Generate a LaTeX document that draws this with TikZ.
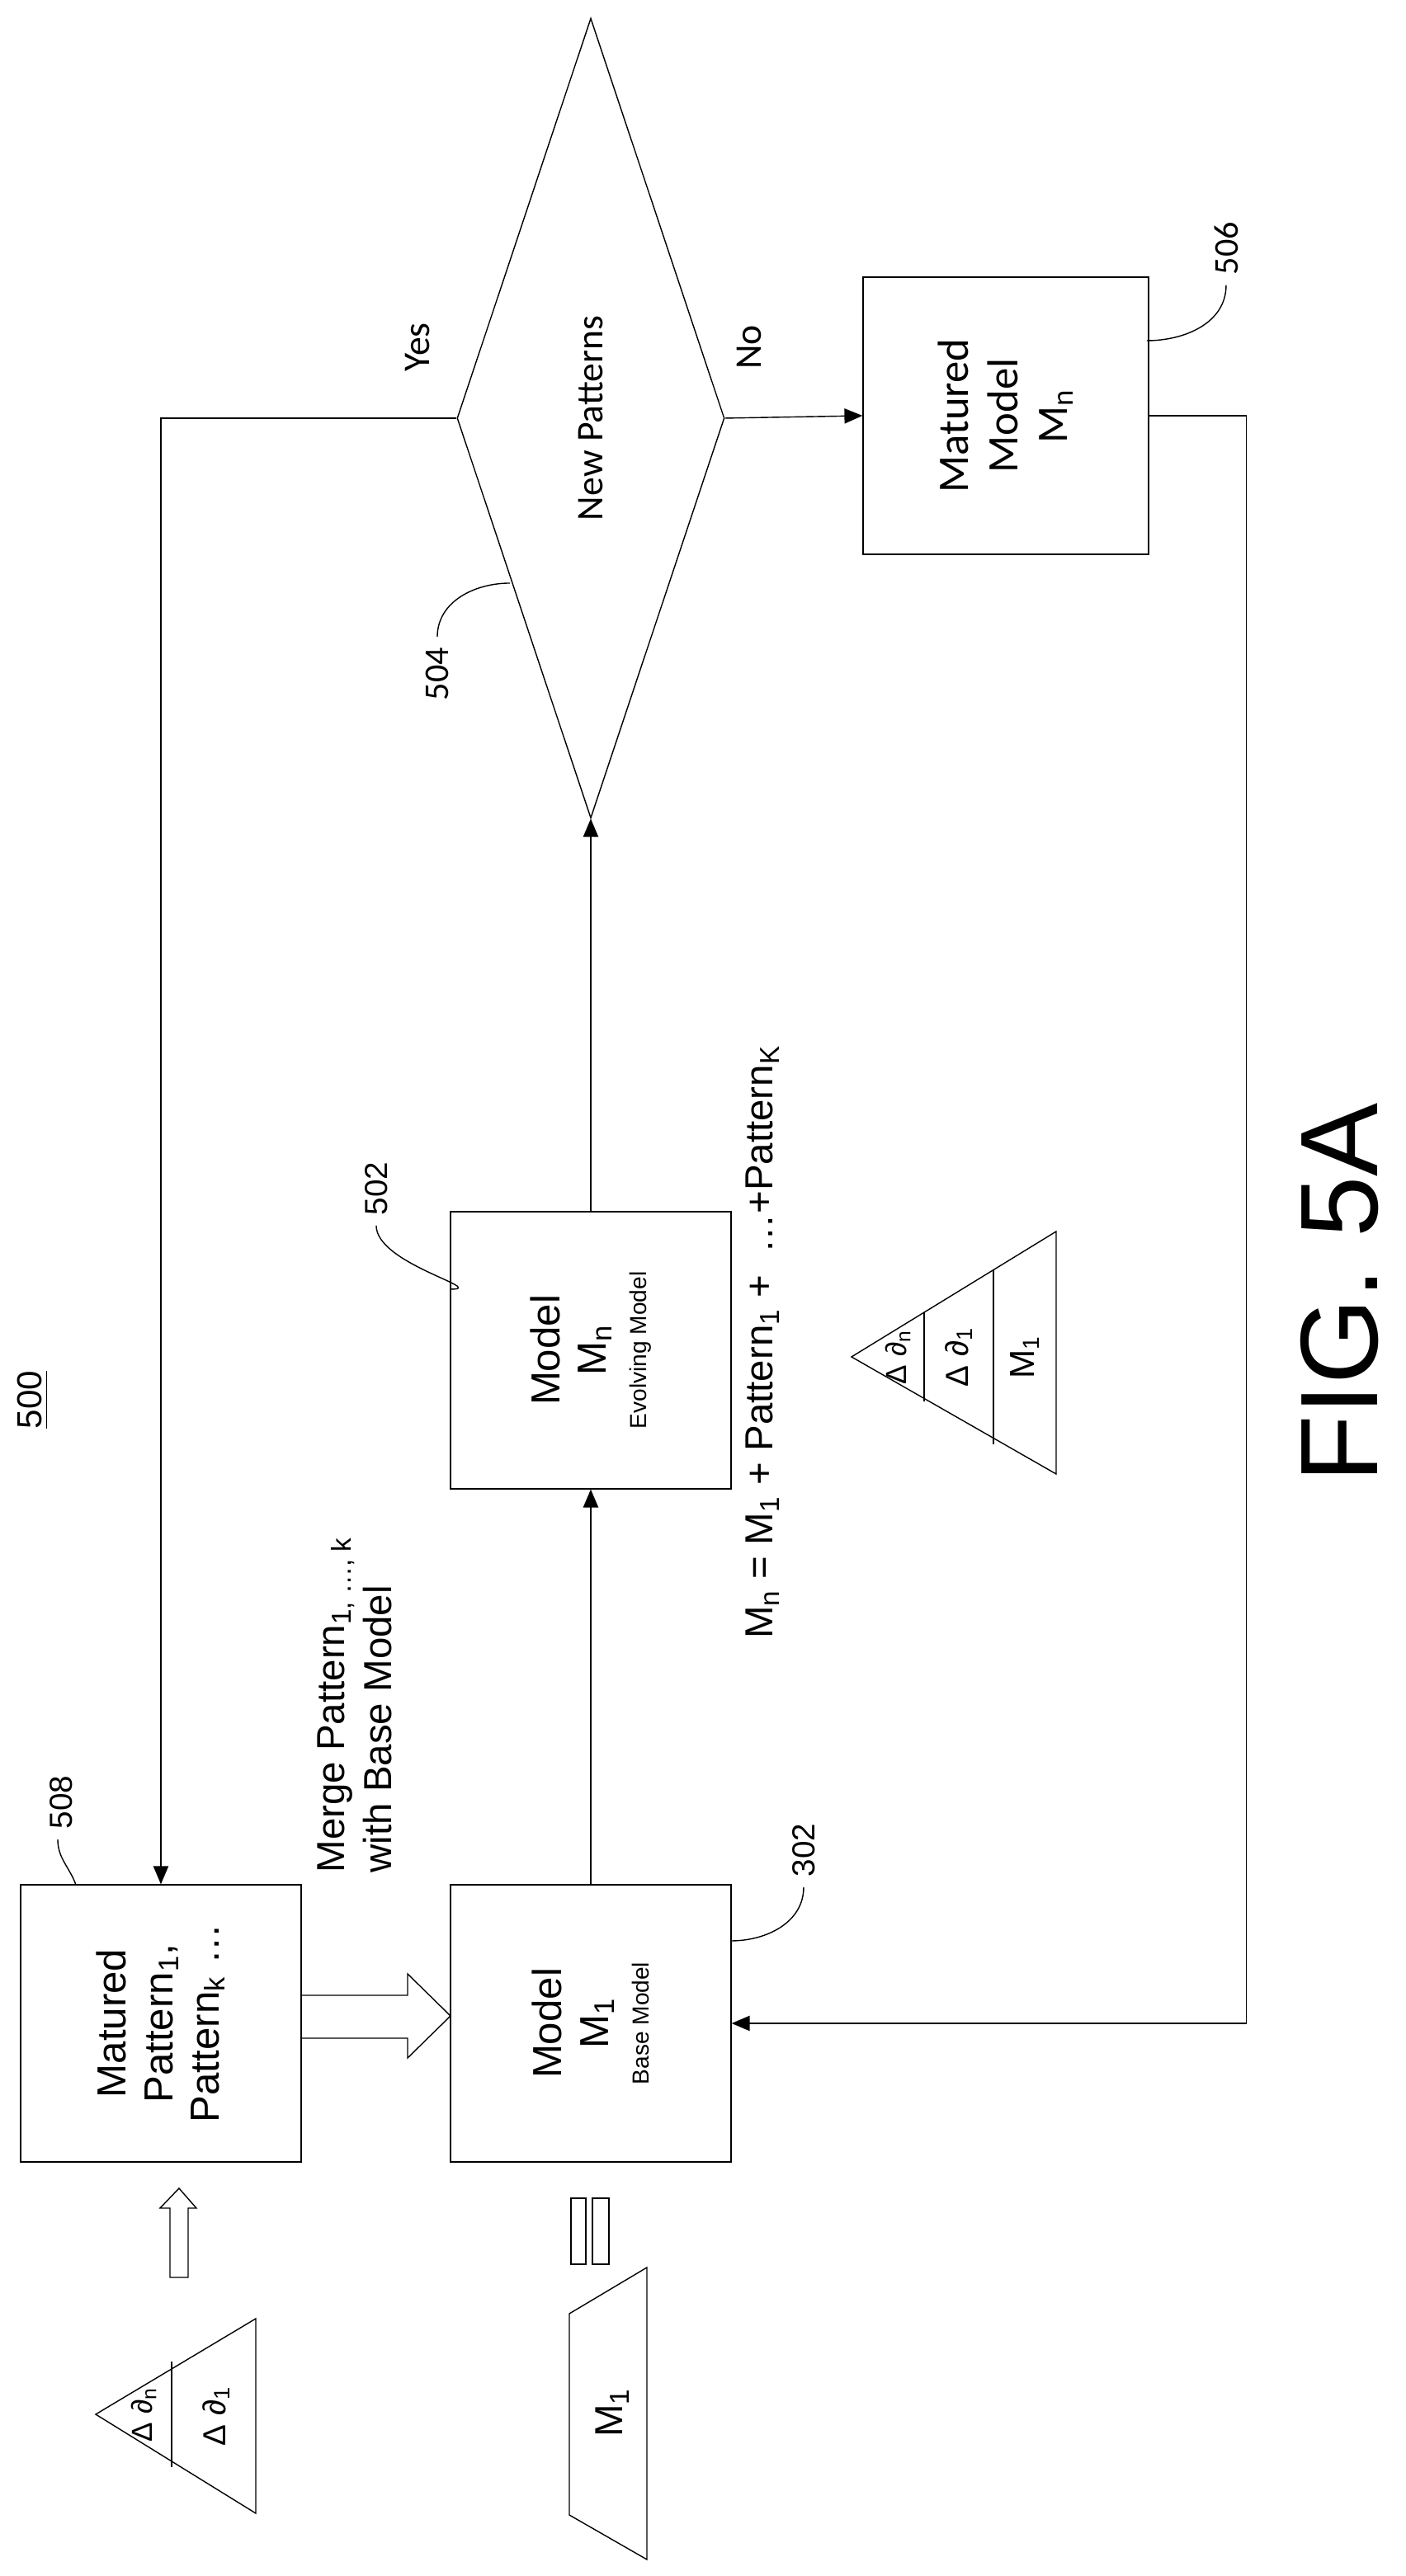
\documentclass[tikz,border=0pt]{standalone}
\usepackage{fontspec}
\setmainfont{Liberation Sans}
\newfontfamily\calfont{Carlito}
\usepackage{tikz}
\usetikzlibrary{arrows}
\usetikzlibrary{shapes.geometric}
\tikzset{
    tnode/.style = {align=center, inner sep=0pt, text centered},
    plain_box/.style = {tnode, rectangle, draw=black, thin, minimum width=3.36cm, minimum height=3.4cm, font=\fontsize{14}{16}\selectfont},
    decision_node/.style = {tnode, diamond, draw=black, thin, minimum width=9.7cm, minimum height=3.24cm, font=\calfont\fontsize{13}{15}\selectfont},
    ref_num/.style = {tnode, font=\fontsize{11}{13}\selectfont},
    branch/.style = {tnode, font=\calfont\fontsize{13}{15}\selectfont},
    tri_txt/.style = {tnode, font=\fontsize{10}{12}\selectfont}
}
\begin{document}
\begin{tikzpicture}[x=0.02cm, y=0.02cm, ->, >=triangle 45, thin]
    \begin{scope}[rotate=90, transform shape]
        \useasboundingbox (0,0) rectangle (1561.5,852);
        % boxes
        \node [plain_box] (matured) at (335,754.5) {Matured\\Pattern\textsubscript{1},\\Pattern\textsubscript{k} \dots};
        \node [plain_box] (base) at (335,494) {Model\\M\textsubscript{1}\\[-2pt]{\fontsize{8}{9}\selectfont Base Model}};
        \node [plain_box] (evolving) at (743,494) {Model\\M\textsubscript{n}\\[-2pt]{\fontsize{8}{9}\selectfont Evolving Model}};
        \node [decision_node] (newpat) at (1308,494) {New Patterns};
        \node [plain_box, minimum height=3.46cm, font=\calfont\fontsize{15}{17}\selectfont] (final) at (1309.5,242.5) {Matured\\Model\\M\textsubscript{n}};
        % labels
        \node [ref_num, font=\fontsize{12}{14}\selectfont] (l500) at (713,832) {\underline{500}};
        \node [ref_num] (l508) at (469,815) {508};
        \node [ref_num] (l302) at (440,365) {302};
        \node [ref_num] (l502) at (841,624) {502};
        \node [ref_num, font=\calfont\fontsize{12}{14}\selectfont] (l504) at (1153,587) {504};
        \node [ref_num, font=\calfont\fontsize{12}{14}\selectfont] (l506) at (1411,109) {506};
        \node [branch] (yes) at (1351,599) {Yes};
        \node [branch] (no) at (1351,398) {No};
        \node [tnode, anchor=west, align=left, font=\fontsize{13.5}{16}\selectfont] (merge) at (426,637) {Merge Pattern\textsubscript{1, \dots, k}\\with Base Model};
        \node [tnode, font=\fontsize{13.5}{16}\selectfont] (formula) at (748,390) {M\textsubscript{n} = M\textsubscript{1} + Pattern\textsubscript{1} + \ \dots+Pattern\textsubscript{K}};
        \node [tnode, font=\fontsize{38}{42}\selectfont] (fig) at (778,40) {FIG. 5A};
        % flow
        \draw (base) -- (evolving);
        \draw (evolving) -- (newpat);
        \draw (newpat.north) |- (matured.east);
        \draw (newpat.south) -- (final.north);
        \draw (final.south) -- ++(0,-59) -| (base.south);
        % leaders
        \coordinate (t508) at (419,806);
        \coordinate (t302) at (385,409);
        \coordinate (t502) at (780,579);
        \coordinate (t504) at (1208,543);
        \coordinate (t506) at (1355,157);
        \draw [-] (l508.west) ++(-6,2) to[out=180,in=20] (t508);
        \draw [-] (l302.west) ++(-6,0) to[out=180,in=-90] (t302);
        \draw [-] (l502.west) ++(-6,0) to[out=180,in=-90] (t502);
        \draw [-] (l504.east) ++(6,0) to[out=0,in=90] (t504);
        \draw [-] (l506.west) ++(-6,0) to[out=180,in=-90] (t506);
        % hollow arrows
        \draw [-] (326,670) -- (326,605) -- (314,605) -- (339.5,579) -- (365,605) -- (352,605) -- (352,670);
        \draw [-] (181,738) -- (223,738) -- (223,733) -- (235,743.5) -- (223,755) -- (223,749) -- (181,749) -- cycle;
        % equals bars
        \draw [-] (189,497) rectangle (229,506);
        \draw [-] (189,483) rectangle (229,493);
        % base trapezoid
        \draw [-] (37,507) -- (159,507) -- (187,460) -- (10,460) -- cycle;
        \node [tnode, font=\fontsize{13.5}{16}\selectfont] (m1) at (99,481) {M\textsubscript{1}};
        % left triangle
        \draw [-] (98,794) -- (156,697) -- (38,697) -- cycle;
        \draw [-] (66,748) -- (130,748);
        \node [tri_txt] (dn) at (98,765) {Δ ∂\textsubscript{n}};
        \node [tri_txt, font=\fontsize{11}{13}\selectfont] (d1) at (97,721) {Δ ∂\textsubscript{1}};
        % right triangle
        \draw [-] (739,336) -- (815,212) -- (668,212) -- cycle;
        \draw [-] (712,292) -- (766,292);
        \draw [-] (686,250) -- (792,250);
        \node [tri_txt] (rdn) at (739,308) {Δ ∂\textsubscript{n}};
        \node [tri_txt, font=\fontsize{11}{13}\selectfont] (rd1) at (739,271) {Δ ∂\textsubscript{1}};
        \node [tri_txt, font=\fontsize{12}{14}\selectfont] (rm1) at (739,231) {M\textsubscript{1}};
    \end{scope}
\end{tikzpicture}
\end{document}
